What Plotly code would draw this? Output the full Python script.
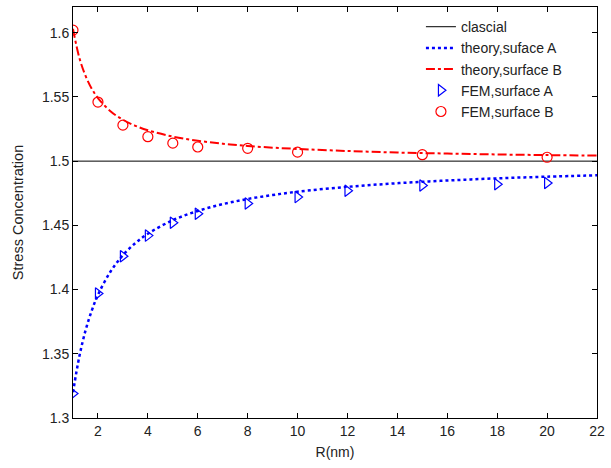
import plotly.graph_objects as go

# Theory curves
theory_x = [1, 1.25, 1.5, 1.75, 2, 2.5, 3, 3.5, 4, 5, 6, 7, 8, 9, 10, 12, 14, 16, 18, 20, 22]
theory_a = [1.320, 1.3475, 1.368, 1.3835, 1.3958, 1.4139, 1.4267, 1.4362, 1.4435, 1.454,
            1.4612, 1.4665, 1.4705, 1.4736, 1.4762, 1.480, 1.4828, 1.4849, 1.4866, 1.4879, 1.489]
theory_b = [1.603, 1.5808, 1.5665, 1.5564, 1.5491, 1.5389, 1.5322, 1.5275, 1.524, 1.5191,
            1.5159, 1.5136, 1.5118, 1.5105, 1.5095, 1.5079, 1.5067, 1.5059, 1.5052, 1.5047, 1.5043]

# Classical value
classical_x = [1, 22]
classical_y = [1.5, 1.5]

# FEM results
fem_a_x = [1, 2, 3, 4, 5, 6, 8, 10, 12, 15, 18, 20]
fem_a_y = [1.319, 1.397, 1.426, 1.442, 1.452, 1.459, 1.467, 1.472, 1.477, 1.481, 1.482, 1.483]
fem_b_x = [1, 2, 3, 4, 5, 6, 8, 10, 15, 20]
fem_b_y = [1.602, 1.546, 1.528, 1.519, 1.514, 1.511, 1.510, 1.507, 1.505, 1.503]

x_ticks = [2, 4, 6, 8, 10, 12, 14, 16, 18, 20, 22]
y_ticks = [1.3, 1.35, 1.4, 1.45, 1.5, 1.55, 1.6]
y_tick_text = ["1.3", "1.35", "1.4", "1.45", "1.5", "1.55", "1.6"]

FONT = "Arial, Liberation Sans, Helvetica, sans-serif"

fig = go.Figure()
fig.add_trace(go.Scatter(x=classical_x, y=classical_y, mode="lines", name="clascial",
                         line=dict(color="black", width=1)))
fig.add_trace(go.Scatter(x=theory_x, y=theory_a, mode="lines", name="theory,suface A",
                         line=dict(color="#0000ff", width=2.5, dash="dot", shape="spline")))
fig.add_trace(go.Scatter(x=theory_x, y=theory_b, mode="lines", name="theory,surface B",
                         line=dict(color="#ff0000", width=2, dash="dashdot", shape="spline")))
fig.add_trace(go.Scatter(x=fem_a_x, y=fem_a_y, mode="markers", name="FEM,surface A",
                         marker=dict(symbol="triangle-right-open", size=10, color="#0000ff",
                                     line=dict(width=1.2, color="#0000ff"))))
fig.add_trace(go.Scatter(x=fem_b_x, y=fem_b_y, mode="markers", name="FEM,surface B",
                         marker=dict(symbol="circle-open", size=10, color="#ff0000",
                                     line=dict(width=1.2, color="#ff0000"))))

axis_common = dict(showline=True, linecolor="black", linewidth=1, mirror="ticks",
                   ticks="inside", ticklen=5, tickcolor="black", showgrid=False,
                   zeroline=False, tickfont=dict(family=FONT, size=14, color="#222"))

fig.update_xaxes(range=[1, 22], tickvals=x_ticks,
                 title=dict(text="R(nm)", font=dict(family=FONT, size=14, color="#222"), standoff=9),
                 **axis_common)
fig.update_yaxes(range=[1.3, 1.62], tickvals=y_ticks, ticktext=y_tick_text,
                 title=dict(text="Stress Concentration", font=dict(family=FONT, size=14.5, color="#222"), standoff=14),
                 **axis_common)

fig.update_layout(
    width=611, height=468,
    margin=dict(l=73, r=14, t=7, b=50),
    paper_bgcolor="white", plot_bgcolor="white",
    font=dict(family=FONT, size=14, color="#222"),
    legend=dict(x=0.664, y=0.99, xanchor="left", yanchor="top",
                bgcolor="rgba(255,255,255,0)", borderwidth=0,
                font=dict(family=FONT, size=14, color="#222"),
                tracegroupgap=0, itemwidth=30),
    showlegend=True,
)

fig.write_html("out.html")
